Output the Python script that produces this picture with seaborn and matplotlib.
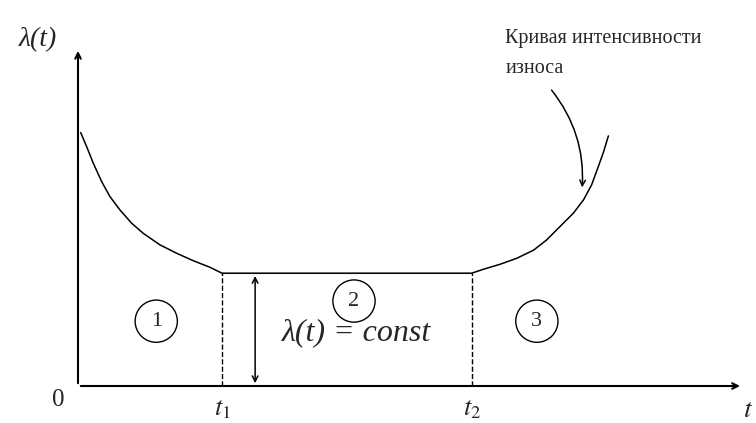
import matplotlib
matplotlib.use('Agg')
import matplotlib.pyplot as plt
import seaborn as sns
import pandas as pd
from matplotlib.patches import Circle

# кривая интенсивности отказов (ванна)
t_early = [0.056, 0.181, 0.319, 0.494, 0.667, 0.875, 1.119, 1.36, 1.708,
           2.056, 2.402, 2.75, 3.0]
lam_early = [5.28, 4.985, 4.64, 4.256, 3.944, 3.667, 3.39, 3.18, 2.94,
             2.765, 2.61, 2.473, 2.35]
t_flat = [3.0, 8.2]
lam_flat = [2.35, 2.35]
t_wear = [8.2, 8.44, 8.79, 9.14, 9.49, 9.76, 10.04, 10.32, 10.53, 10.7,
          10.84, 10.95, 11.05]
lam_wear = [2.35, 2.43, 2.535, 2.66, 2.83, 3.04, 3.32, 3.6, 3.875, 4.19,
            4.57, 4.88, 5.21]

t1, t2 = 3.0, 8.2
lam_const = 2.35
zone_labels = ['1', '2', '3']
zone_t = [1.63, 5.75, 9.56]
zone_lam = [1.35, 1.77, 1.35]

sns.set_style('white')
plt.rcParams['font.family'] = ['Liberation Serif', 'DejaVu Serif']
plt.rcParams['mathtext.fontset'] = 'stix'

fig = plt.figure(figsize=(7.56, 4.23), dpi=100)
ax = fig.add_axes([0, 0, 1, 1])
ax.set_xlim(-78 / 48, (756 - 78) / 48)
ax.set_ylim(-(423 - 386) / 48, 386 / 48)
ax.axis('off')

curve = pd.DataFrame({
    't': t_early + t_flat + t_wear,
    'lam': lam_early + lam_flat + lam_wear,
})
sns.lineplot(data=curve, x='t', y='lam', sort=False, color='black', lw=1.1, ax=ax)

# оси
ax.annotate('', xy=(13.85, 0), xytext=(0, 0),
            arrowprops=dict(arrowstyle='->', color='black', lw=1.5))
ax.annotate('', xy=(0, 7.04), xytext=(0, 0),
            arrowprops=dict(arrowstyle='->', color='black', lw=1.5))

# границы периодов
for tv in [t1, t2]:
    ax.plot([tv, tv], [0, lam_const], ls='--', color='black', lw=1.0)
ax.annotate('', xy=(3.69, lam_const), xytext=(3.69, 0),
            arrowprops=dict(arrowstyle='<->', color='black', lw=1.1))

for lab, x, y in zip(zone_labels, zone_t, zone_lam):
    ax.add_patch(Circle((x, y), 0.44, fill=False, color='black', lw=1.0))
    ax.text(x, y, lab, ha='center', va='center', fontsize=16)

ax.text(5.8, 1.10, 'λ(t) = const', ha='center', va='center',
        fontsize=23, style='italic')

# подписи
ax.text(-0.83, 7.21, 'λ(t)', ha='center', va='center', fontsize=20, style='italic')
ax.text(-0.42, -0.30, '0', ha='center', va='center', fontsize=18)
ax.text(t1, -0.50, '$t_1$', ha='center', va='center', fontsize=19)
ax.text(t2, -0.50, '$t_2$', ha='center', va='center', fontsize=19)
ax.text(13.96, -0.50, '$t$', ha='center', va='center', fontsize=20)

ax.text(8.9, 6.93, 'Кривая интенсивности\nизноса', ha='left', va='center',
        fontsize=14.5, linespacing=1.75)
ax.annotate('', xy=(10.5, 4.08), xytext=(9.83, 6.21),
            arrowprops=dict(arrowstyle='->', color='black', lw=1.1,
                            connectionstyle='arc3,rad=-0.2'))

fig.savefig('out.png', dpi=100)
